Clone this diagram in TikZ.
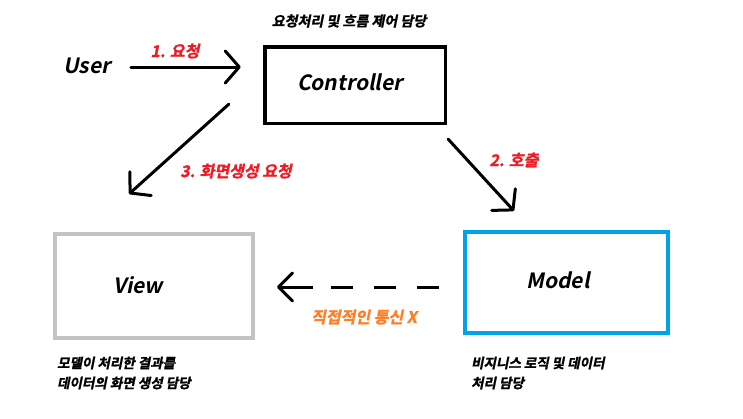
\documentclass[tikz,border=0pt]{standalone}
\usepackage{fontspec}
\newfontfamily\kr{Noto Sans CJK KR Bold}[FakeSlant=0.2]
\newfontfamily\krk{Noto Sans CJK KR Bold}[FakeSlant=0.2, FakeBold=1.5]
\usetikzlibrary{arrows.meta,calc}
\definecolor{lblred}{HTML}{ED1C24}
\definecolor{lblorange}{HTML}{FF7F27}
\definecolor{boxgray}{HTML}{C3C3C3}
\definecolor{boxblue}{HTML}{00A2E8}
\begin{document}
\begin{tikzpicture}[x=1pt,y=-1pt,
  box/.style={draw, rectangle, inner sep=0pt, outer sep=0pt},
  title/.style={font=\kr\fontsize{21}{24}\selectfont, inner sep=0pt, anchor=base},
  caption/.style={font=\krk\fontsize{13.5}{20}\selectfont, inner sep=0pt, align=left, anchor=west},
  redlbl/.style={font=\krk\fontsize{16}{18}\selectfont, text=lblred, inner sep=0pt},
  orglbl/.style={font=\krk\fontsize{16}{18}\selectfont, text=lblorange, inner sep=0pt},
  arr/.style={line width=3pt, line cap=round, -{Straight Barb[length=14pt, width=32pt, round]}}
]
\fill[white] (0,0) rectangle (743,418);
\useasboundingbox (0,0) rectangle (743,418);

% boxes
\node[box, line width=3.5pt, minimum width=180.5pt, minimum height=76.5pt] (ctrl) at (355,85) {};
\node[box, line width=4pt, draw=boxgray, minimum width=198pt, minimum height=104pt] (view) at (154,286) {};
\node[box, line width=4pt, draw=boxblue, minimum width=203pt, minimum height=101pt] (model) at (566.5,282.5) {};

% titles
\node[title] (user) at (87,73) {User};
\node[title] (ctrltxt) at (350,90) {Controller};
\node[title] (viewtxt) at (138,293) {View};
\node[title] (modeltxt) at (558,288) {Model};

% captions
\node[font=\krk\fontsize{14}{16}\selectfont, inner sep=0pt] (ctrlcap) at (349,21) {요청처리 및 흐름 제어 담당};
\node[caption] (viewcap) at (57,373) {모델이 처리한 결과를\\데이터의 화면 생성 담당};
\node[caption] (modelcap) at (471,373) {비지니스 로직 및 데이터\\처리 담당};

% labels
\node[redlbl] (l1) at (175,51) {1. 요청};
\node[redlbl] (l2) at (514,160) {2. 호출};
\node[redlbl] (l3) at (236,171) {3. 화면생성 요청};
\node[orglbl] (l4) at (364,317) {직접적인 통신 X};

% connectors
\draw[arr] ([shift={(20,-6)}]user.base east) -- ([shift={(-24,-18)}]ctrl.west);
\draw[arr] ([shift={(3,16)}]ctrl.south east) -- ([shift={(49,-21)}]model.north west);
\draw[arr] ([shift={(-36,-19)}]ctrl.south west) -- ([shift={(74,-40)}]view.north west);
\draw[line width=3pt, line cap=butt, dash pattern=on 22pt off 21pt on 22pt off 21pt on 22pt off 18pt on 60pt,
  -{Straight Barb[length=14pt, width=28pt, round]}]
  ([shift={(-26,4.5)}]model.west) -- ([shift={(24,1)}]view.east);
\end{tikzpicture}
\end{document}
